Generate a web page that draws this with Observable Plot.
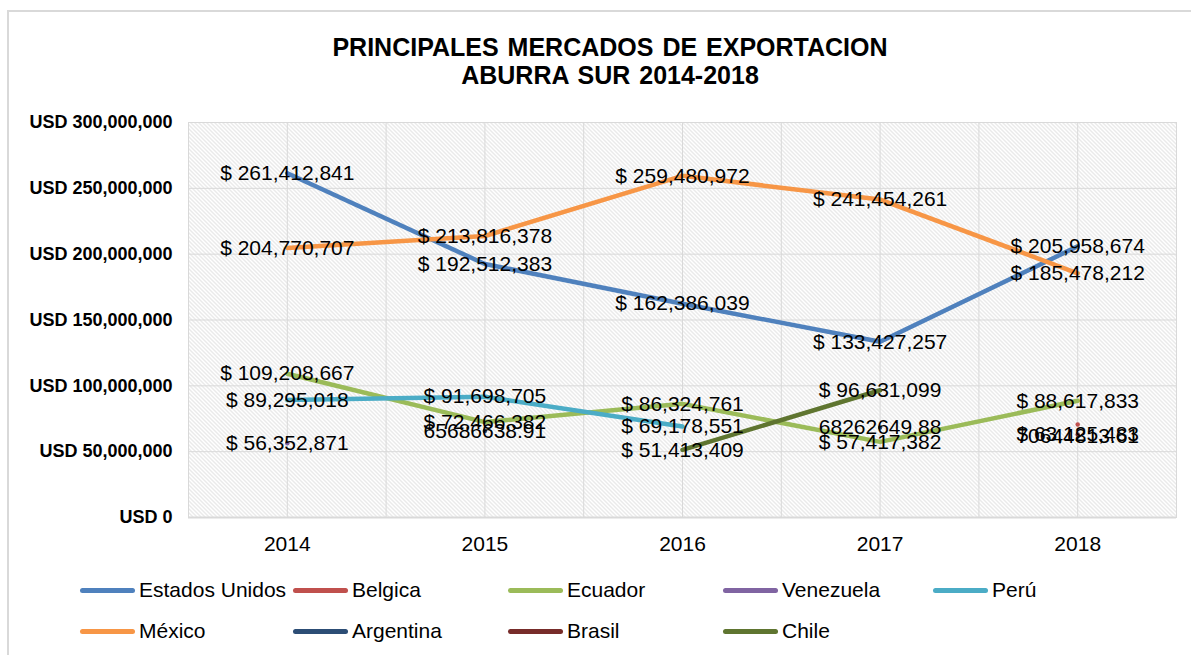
<!DOCTYPE html>
<html>
<head>
<meta charset="utf-8">
<script src="https://cdn.jsdelivr.net/npm/d3@7"></script>
<script src="https://cdn.jsdelivr.net/npm/@observablehq/plot@0.6"></script>
<style>
  html, body { margin: 0; padding: 0; background: #fff; }
  #wrap { position: relative; width: 1191px; height: 655px; overflow: hidden; font-family: Arial, "Liberation Sans", sans-serif; }
  #frame { position: absolute; left: 7px; top: 10px; width: 1200px; height: 700px; border: 2px solid #d9d9d9; box-sizing: border-box; }
  #title { position: absolute; left: 0; width: 1220px; top: 33px; text-align: center; font-weight: bold; font-size: 25px; line-height: 28px; color: #000; word-spacing: 2px; }
  #chart { position: absolute; left: 0; top: 100px; }
  .leg { position: absolute; display: flex; align-items: center; font-size: 21px; color: #000; white-space: nowrap; }
  .sw { display: inline-block; width: 55px; height: 5px; border-radius: 3px; margin-right: 4px; }
</style>
</head>
<body>
<div id="wrap">
  <div id="frame"></div>
  <div id="title">PRINCIPALES MERCADOS DE EXPORTACION<br>ABURRA SUR 2014-2018</div>
  <div id="chart"></div>
</div>
<script>
// ---- data ----
const years = [2014, 2015, 2016, 2017, 2018];
const seriesNames = ["Estados Unidos", "Belgica", "Ecuador", "Venezuela", "Perú", "México", "Argentina", "Brasil", "Chile"];
const estadosUnidos = [261412841, 192512383, 162386039, 133427257, 205958674];
const belgica       = [null, null, null, null, 70644813.61];
const ecuador       = [109208667, 72466382, 86324761, 57417382, 88617833];
const venezuela     = [56352871, null, null, null, null];
const peru          = [89295018, 91698705, 69178551, null, null];
const mexico        = [204770707, 213816378, 259480972, 241454261, 185478212];
const argentina     = [null, 65686638.91, null, 68262649.88, null];
const brasil        = [null, null, null, null, 63125483];
const chile         = [null, null, 51413409, 96631099, null];
const seriesValues = [estadosUnidos, belgica, ecuador, venezuela, peru, mexico, argentina, brasil, chile];
const generalFormatSeries = ["Belgica", "Argentina"];
const belowLabelSeries = ["Belgica"];
const seriesColors = ["#4f81bd", "#c0504d", "#9bbb59", "#8064a2", "#4bacc6", "#f79646", "#2c4d75", "#772c2a", "#5f7530"];
const yTicks = [0, 50000000, 100000000, 150000000, 200000000, 250000000, 300000000];

const rows = seriesNames.flatMap((s, i) => seriesValues[i].map((v, j) => ({serie: s, year: years[j], value: v})));
const fmtCur = d3.format(",.0f");
const label = d => generalFormatSeries.includes(d.serie) ? String(d.value) : "$ " + fmtCur(d.value);
const labeled = rows.filter(d => d.value != null);

// ---- layout ----
const W = 1191;
const xGrid = d3.range(2013.5, 2018.51, 0.5);

const plot = Plot.plot({
  width: W,
  height: 470,
  marginLeft: 188,
  marginRight: 15,
  marginTop: 22,
  marginBottom: 53,
  style: {fontFamily: "Arial, 'Liberation Sans', sans-serif", background: "transparent", overflow: "visible"},
  x: {type: "linear", domain: [2013.5, 2018.5]},
  y: {domain: [0, 300000000]},
  color: {domain: seriesNames, range: seriesColors},
  marks: [
    Plot.frame({fill: "url(#hatch)"}),
    Plot.ruleY(yTicks.slice(1), {stroke: "#d9d9d9", strokeWidth: 1}),
    Plot.ruleX(xGrid, {stroke: "#d9d9d9", strokeWidth: 1}),
    Plot.frame({stroke: "#d9d9d9", strokeWidth: 1}),
    Plot.ruleY([0], {stroke: "#d9d9d9", strokeWidth: 2}),
    Plot.axisY({ticks: yTicks, tickSize: 0, tickPadding: 16, tickFormat: d => "USD " + d3.format(",")(d), fontSize: 18, fontWeight: "bold", label: null}),
    Plot.axisX({ticks: years, tickSize: 0, tickPadding: 19, tickFormat: d => String(d), fontSize: 21, label: null}),
    Plot.line(rows, {x: "year", y: "value", z: "serie", stroke: "serie", strokeWidth: 4.5, curve: "linear", strokeLinecap: "round", strokeLinejoin: "round"}),
    Plot.text(labeled.filter(d => !belowLabelSeries.includes(d.serie)), {x: "year", y: "value", text: label, fontSize: 21, fill: "#000", textAnchor: "middle", lineAnchor: "middle"}),
    Plot.text(labeled.filter(d => belowLabelSeries.includes(d.serie)), {x: "year", y: "value", text: label, fontSize: 21, fill: "#000", textAnchor: "middle", lineAnchor: "top", dy: 4})
  ]
});

// hatch pattern definition
const ns = "http://www.w3.org/2000/svg";
const defs = document.createElementNS(ns, "defs");
defs.innerHTML = '<pattern id="hatch" patternUnits="userSpaceOnUse" width="4" height="4">' +
  '<rect width="4" height="4" fill="#ffffff"/>' +
  '<path d="M-1,-1 L5,5 M-1,3 L1,5 M3,-1 L5,1" stroke="#d4d4d4" stroke-width="1"/></pattern>';
plot.insertBefore(defs, plot.firstChild);
document.getElementById("chart").appendChild(plot);

// ---- legend ----
const legendCols = [80, 293, 508, 723, 933];
const legendRows = [590, 631];
const wrap = document.getElementById("wrap");
seriesNames.forEach((s, i) => {
  const r = i < 5 ? 0 : 1;
  const c = i < 5 ? i : i - 5;
  const el = document.createElement("div");
  el.className = "leg";
  el.style.left = legendCols[c] + "px";
  el.style.top = (legendRows[r] - 13) + "px";
  el.style.height = "26px";
  const sw = document.createElement("span");
  sw.className = "sw";
  sw.style.background = seriesColors[i];
  el.appendChild(sw);
  el.appendChild(document.createTextNode(s));
  wrap.appendChild(el);
});
</script>
</body>
</html>
